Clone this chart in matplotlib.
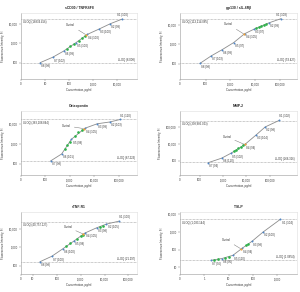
import matplotlib
matplotlib.use("Agg")
import matplotlib.pyplot as plt
import numpy as np

plt.rcParams['font.family'] = ['Liberation Sans', 'DejaVu Sans']

# ---------------- data ----------------
titles = ["sCD30 / TNFRSF8", "gp130 / sIL-6Rβ", "Osteopontin", "MMP-2", "sTNF-R1", "TSLP"]

# standards (concentration pg/ml, fluorescence intensity)
p1_x = [16600, 5250, 1740, 575, 195, 59, 21, 6.3]
p1_y = [17400, 10000, 5250, 2820, 1070, 390, 190, 100]
p1_lab = ["S1 (100)", "S2 (99)", "S3 (100)", "S4 (100)", "S5 (100)", "S6 (99)", "S7 (102)", "S8 (98)"]
p1_gx = [79, 112, 158, 251, 355, 479]
p1_gy = [500, 710, 890, 1320, 1860, 2400]
p1_cx, p1_cy = 525, 2630
p1_uloq, p1_lloq = 17400, 100
p1_ut, p1_lt = "ULOQ (16834.456)", "LLOQ (8.008)"

p2_x = [112000, 35500, 9300, 3800, 1380, 460, 170, 60]
p2_y = [20400, 12300, 6000, 3470, 1230, 525, 257, 107]
p2_lab = ["S1 (103)", "S2 (99)", "S3 (97)", "S4 (105)", "S5 (97)", "S6 (99)", "S7 (103)", "S8 (98)"]
p2_gx = [11200, 14100, 17800, 22400, 28200]
p2_gy = [6760, 7590, 8710, 9770, 10960]
p2_cx, p2_cy = 3630, 3310
p2_uloq, p2_lloq = 19500, 107
p2_ut, p2_lt = "ULOQ (113,214.085)", "LLOQ (53.427)"

p3_x = [112000, 41700, 12900, 4070, 1170, 470, 170]
p3_y = [17800, 13200, 10700, 6310, 1740, 310, 138]
p3_lab = ["S1 (110)", "S2 (103)", "S3 (99)", "S4 (105)", "S5 (98)", "S6 (101)", "S7 (98)"]
p3_gx = [630, 790, 1000, 1580, 2240, 3160]
p3_gy = [560, 890, 1320, 2630, 3980, 5250]
p3_cx, p3_cy = 3800, 6030
p3_uloq, p3_lloq = 17800, 132
p3_ut, p3_lt = "ULOQ (383,108.844)", "LLOQ (87.223)"

p4_x = [257000, 63000, 25700, 8700, 2190, 870, 234]
p4_y = [234000, 95500, 32400, 9330, 2820, 1450, 794]
p4_lab = ["S1 (102)", "S2 (98)", "S3 (104)", "S4 (94)", "S5 (102)", "S6 (110)", "S7 (94)"]
p4_gx = [2820, 3550, 4470, 5620, 7080]
p4_gy = [3550, 4470, 5620, 6610, 7940]
p4_cx, p4_cy = 8300, 9120
p4_uloq, p4_lloq = 214000, 912
p4_ut, p4_lt = "ULOQ (338,985.023)", "LLOQ (266.316)"

p5_x = [40700, 12000, 4680, 1510, 525, 178, 62, 20]
p5_y = [25100, 17400, 11000, 5750, 2140, 813, 324, 166]
p5_lab = ["S1 (100)", "S2 (105)", "S3 (98)", "S4 (105)", "S5 (98)", "S6 (100)", "S7 (100)", "S8 (98)"]
p5_gx = [251, 355, 708, 1000, 1260, 6310, 8910]
p5_gy = [1120, 1580, 2820, 3800, 4790, 12600, 14500]
p5_cx, p5_cy = 1320, 5010
p5_uloq, p5_lloq = 22900, 166
p5_ut, p5_lt = "ULOQ (40,757.127)", "LLOQ (21.297)"

p6_x = [1380, 263, 93, 35.5, 15.1, 5.37, 1.95]
p6_y = [5250, 977, 295, 115, 46.8, 30.9, 24.5]
p6_lab = ["S1 (104)", "S2 (100)", "S3 (98)", "S4 (94)", "S5 (110)", "S6 (95)", "S7 (96)"]
p6_gx = [2.51, 3.55, 7.08, 10, 50.1, 66.1]
p6_gy = [25.7, 27.5, 33.1, 38, 174, 214]
p6_cx, p6_cy = 33.1, 107
p6_uloq, p6_lloq = 5250, 24.5
p6_ut, p6_lt = "ULOQ (1,033.144)", "LLOQ (1.0654)"

# axis ticks
xticks = [[1, 10, 100, 1000, 10000],
          [9.3, 100, 1000, 10000, 100000],
          [10.7, 100, 1000, 10000, 100000],
          [14.5, 100, 1000, 10000, 100000],
          [3.2, 10, 100, 1000, 10000, 100000],
          [0.1, 1, 10, 100, 1000]]
xticklabels = [["0", "10", "100", "1,000", "10,000"],
               ["0", "100", "1,000", "10,000", "100,000"],
               ["0", "100", "1,000", "10,000", "100,000"],
               ["0", "100", "1,000", "10,000", "100,000"],
               ["0", "10", "100", "1,000", "10,000", "100,000"],
               ["0", "1", "10", "100", "1,000"]]
yticks = [[100, 1000, 10000], [100, 1000, 10000], [100, 1000, 10000],
          [1000, 10000, 100000], [100, 1000, 10000], [10, 100, 1000, 10000]]
yticklabels = [["100", "1,000", "10,000"], ["100", "1,000", "10,000"], ["100", "1,000", "10,000"],
               ["100", "10,000", "100,000"], ["100", "1,000", "10,000"], ["10", "100", "1,000", "10,000"]]
# axis limits (log10)
xlims = [(0, 4.83), (0.97, 5.7), (1.03, 5.72), (1.16, 6.16), (0.51, 5.36), (-0.99, 3.82)]
ylims = [(1.16, 4.55), (1.23, 4.6), (1.42, 4.68), (2.18, 5.91), (1.56, 4.89), (0.61, 4.13)]

panels = [
    (p1_x, p1_y, p1_lab, p1_gx, p1_gy, p1_cx, p1_cy, p1_uloq, p1_lloq, p1_ut, p1_lt),
    (p2_x, p2_y, p2_lab, p2_gx, p2_gy, p2_cx, p2_cy, p2_uloq, p2_lloq, p2_ut, p2_lt),
    (p3_x, p3_y, p3_lab, p3_gx, p3_gy, p3_cx, p3_cy, p3_uloq, p3_lloq, p3_ut, p3_lt),
    (p4_x, p4_y, p4_lab, p4_gx, p4_gy, p4_cx, p4_cy, p4_uloq, p4_lloq, p4_ut, p4_lt),
    (p5_x, p5_y, p5_lab, p5_gx, p5_gy, p5_cx, p5_cy, p5_uloq, p5_lloq, p5_ut, p5_lt),
    (p6_x, p6_y, p6_lab, p6_gx, p6_gy, p6_cx, p6_cy, p6_uloq, p6_lloq, p6_ut, p6_lt),
]

# ---------------- layout ----------------
W, H = 300, 292
fig = plt.figure(figsize=(W / 100, H / 100), dpi=100)
fig.patch.set_facecolor("white")

col_px = [(21, 137), (180, 297)]
row_px = [(13, 79), (111, 175), (212, 274)]

# control text offsets (points)
ctrl_off = [(-8, 7), (-8, 7), (-9.5, 2), (-9.5, 5.5), (-8, 5), (-7.5, 6.5)]
s1_style = ["center", "center", "left", "left", "left", "below"]

LINE = "#8c8c8c"
BLUE = "#4f86c6"
GREEN = "#2fb24c"
ORANGE = "#f2a33a"
TXT = "#333333"
FS_T = 2.4
FS = 2.0

for i, (px, py, lab, gx, gy, cx, cy, uloq, lloq, ut, lt) in enumerate(panels):
    r, c = divmod(i, 2)
    x0, x1 = col_px[c]
    y0, y1 = row_px[r]
    ax = fig.add_axes([x0 / W, 1 - y1 / H, (x1 - x0) / W, (y1 - y0) / H])
    ax.set_xscale("log")
    ax.set_yscale("log")
    ax.set_xlim(10 ** xlims[i][0], 10 ** xlims[i][1])
    ax.set_ylim(10 ** ylims[i][0], 10 ** ylims[i][1])

    # reference lines
    ax.axhline(uloq, color="#9a9a9a", lw=0.5, ls=(0, (1, 1)), zorder=1)
    ax.axhline(lloq, color="#9a9a9a", lw=0.5, ls=(0, (1, 1)), zorder=1)
    ax.annotate(ut, xy=(0, uloq), xycoords=("axes fraction", "data"),
                xytext=(1.5, -2.4), textcoords="offset points",
                ha="left", va="center", fontsize=FS, color=TXT)
    ax.annotate(lt, xy=(1, lloq), xycoords=("axes fraction", "data"),
                xytext=(-1.5, 2.2), textcoords="offset points",
                ha="right", va="center", fontsize=FS, color=TXT)

    # curve
    ax.plot(px, py, color=LINE, lw=0.6, zorder=2)
    ax.plot(gx, gy, ls="none", marker="o", ms=1.9, mew=0, color=GREEN, zorder=3)
    ax.plot(px, py, ls="none", marker="o", ms=1.4, mew=0, color=BLUE, zorder=4)
    ax.plot([cx], [cy], ls="none", marker="o", ms=1.6, mew=0, color=ORANGE, zorder=5)

    # standard labels
    for k, (xx, yy, t) in enumerate(zip(px, py, lab)):
        if k == 0:
            st = s1_style[i]
            if st == "center":
                ax.annotate(t, (xx, yy), xytext=(0, 2.6), textcoords="offset points",
                            ha="center", va="center", fontsize=FS, color=TXT)
            elif st == "left":
                ax.annotate(t, (xx, yy), xytext=(0, 2.8), textcoords="offset points",
                            ha="left", va="center", fontsize=FS, color=TXT)
            else:
                ax.annotate(t, (xx, yy), xytext=(0.8, -2.6), textcoords="offset points",
                            ha="left", va="center", fontsize=FS, color=TXT)
        else:
            ax.annotate(t, (xx, yy), xytext=(0.8, -2.4), textcoords="offset points",
                        ha="left", va="center", fontsize=FS, color=TXT)

    ax.annotate("Control", (cx, cy), xytext=ctrl_off[i], textcoords="offset points",
                ha="right", va="center", fontsize=FS, color=TXT,
                arrowprops=dict(arrowstyle="-", color="#777777", lw=0.35,
                                shrinkA=0.5, shrinkB=0.5))

    # axes styling
    ax.set_xticks(xticks[i])
    ax.set_xticklabels(xticklabels[i])
    ax.set_yticks(yticks[i])
    ax.set_yticklabels(yticklabels[i])
    ax.minorticks_off()
    ax.tick_params(axis="both", labelsize=FS, length=1.2, width=0.35, pad=1.2,
                   colors="#888888", labelcolor=TXT)
    for s in ["left", "bottom"]:
        ax.spines[s].set_color("#9a9a9a")
        ax.spines[s].set_linewidth(0.4)
    for s in ["top", "right"]:
        ax.spines[s].set_color("#dddddd")
        ax.spines[s].set_linewidth(0.4)
    ax.set_title(titles[i], fontsize=FS_T, fontweight="bold", color="#222222", pad=3.2)
    ax.set_xlabel("Concentration, pg/ml", fontsize=FS, color=TXT, labelpad=1.5)
    ax.set_ylabel("Fluorescence Intensity, FI", fontsize=FS, color=TXT, labelpad=3)

fig.savefig("out.png", dpi=100, facecolor="white")
